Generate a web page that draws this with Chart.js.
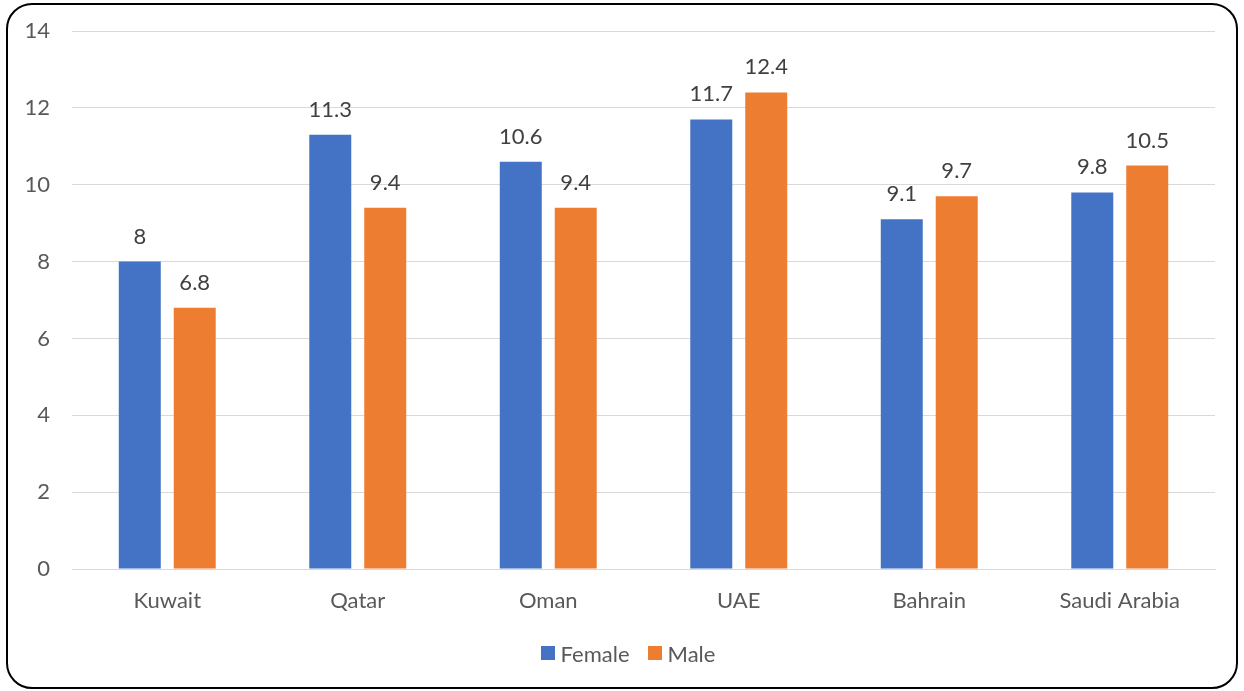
<!DOCTYPE html>
<html>
<head>
<meta charset="utf-8">
<script src="https://cdn.jsdelivr.net/npm/chart.js@4/dist/chart.umd.min.js"></script>
<style>
  html, body { margin:0; padding:0; background:#fff; }
  #wrap { position:relative; width:1244px; height:691px; overflow:hidden; }
  #frame { position:absolute; left:6px; top:3px; width:1232px; height:686px; border:2px solid #000; border-radius:26px; box-sizing:border-box; pointer-events:none; }
  canvas { position:absolute; left:0; top:0; }
  #legend { position:absolute; left:0; width:1256px; top:640px; height:26px; display:flex; justify-content:center; align-items:center;
            font-family: Lato, 'Open Sans', sans-serif; font-size:22px; color:#595959; }
  .item { display:flex; align-items:center; margin:0 9px; }
  .sw { width:14px; height:14px; margin-right:6px; }
</style>
</head>
<body>
<div id="wrap">
  <canvas id="c" width="1244" height="691"></canvas>
  <div id="legend"></div>
  <div id="frame"></div>
</div>
<script>
const categories = ["Kuwait", "Qatar", "Oman", "UAE", "Bahrain", "Saudi Arabia"];
const femaleValues = [8, 11.3, 10.6, 11.7, 9.1, 9.8];
const maleValues = [6.8, 9.4, 9.4, 12.4, 9.7, 10.5];
const seriesNames = ["Female", "Male"];
const yTicks = [0, 2, 4, 6, 8, 10, 12, 14];

const FONT = "Lato, 'Open Sans', sans-serif";
const SIZE = 22;

const dataLabels = {
  id: 'dataLabels',
  afterDatasetsDraw(chart) {
    const ctx = chart.ctx;
    ctx.save();
    ctx.font = SIZE + "px " + FONT;
    ctx.fillStyle = '#404040';
    ctx.textAlign = 'center';
    ctx.textBaseline = 'alphabetic';
    chart.data.datasets.forEach((ds, i) => {
      const meta = chart.getDatasetMeta(i);
      meta.data.forEach((bar, j) => {
        ctx.fillText(String(ds.data[j]), bar.x, bar.y - 18);
      });
    });
    ctx.restore();
  }
};

const chart = new Chart(document.getElementById('c'), {
  type: 'bar',
  data: {
    labels: categories,
    datasets: [
      { label: seriesNames[0], data: femaleValues, backgroundColor: '#4472C4', categoryPercentage: 0.577, barPercentage: 0.764 },
      { label: seriesNames[1], data: maleValues, backgroundColor: '#ED7D31', categoryPercentage: 0.577, barPercentage: 0.764 }
    ]
  },
  options: {
    responsive: false,
    animation: false,
    devicePixelRatio: 1,
    layout: { padding: { top: 31, right: 29, bottom: 58, left: 0 } },
    plugins: {
      legend: { display: false },
      tooltip: { enabled: false }
    },
    scales: {
      x: {
        grid: { display: false },
        border: { color: '#D9D9D9', width: 1 },
        ticks: { font: { family: FONT, size: SIZE }, color: '#595959', padding: 11 },
        afterFit(s) { s.height = 64; s.paddingLeft = 0; s.paddingRight = 0; }
      },
      y: {
        min: 0, max: 14,
        afterBuildTicks(s) { s.ticks = yTicks.map(v => ({ value: v })); },
        grid: { color: '#D9D9D9', drawTicks: false },
        border: { display: false },
        ticks: { font: { family: FONT, size: SIZE }, color: '#595959', padding: 22 },
        afterFit(s) { s.width = 72; s.paddingTop = 0; s.paddingBottom = 0; }
      }
    }
  },
  plugins: [dataLabels]
});

const legendEl = document.getElementById('legend');
chart.data.datasets.forEach(ds => {
  const item = document.createElement('div');
  item.className = 'item';
  const sw = document.createElement('span');
  sw.className = 'sw';
  sw.style.background = ds.backgroundColor;
  const tx = document.createElement('span');
  tx.textContent = ds.label;
  item.appendChild(sw);
  item.appendChild(tx);
  legendEl.appendChild(item);
});
</script>
</body>
</html>
